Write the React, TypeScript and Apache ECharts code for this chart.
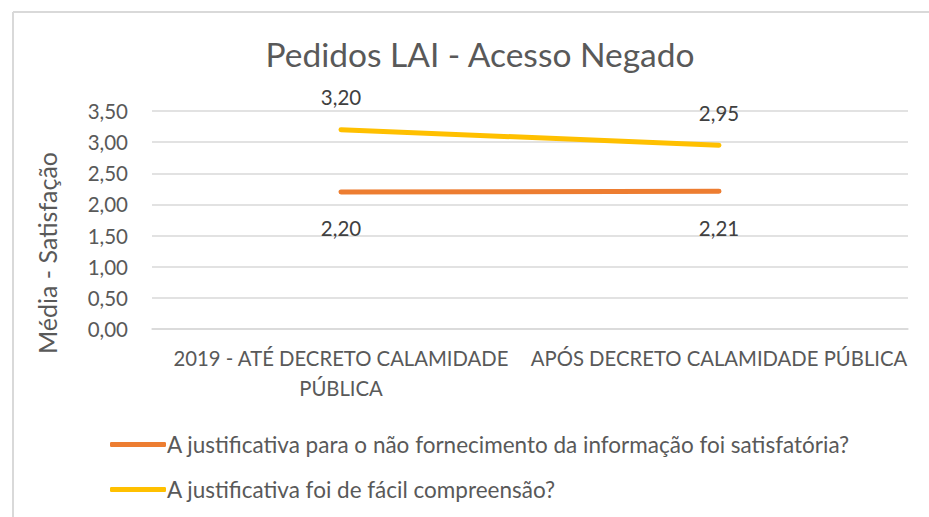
import React, { useEffect, useRef } from "react";
import * as echarts from "echarts";

const categories = ["2019 - ATÉ DECRETO CALAMIDADE\nPÚBLICA", "APÓS DECRETO CALAMIDADE PÚBLICA"];
const seriesNames = [
  "A justificativa para o não fornecimento da informação foi satisfatória?",
  "A justificativa foi de fácil compreensão?",
];
const satisfatoria = [2.2, 2.21];
const compreensao = [3.2, 2.95];
const title = "Pedidos LAI - Acesso Negado";
const yAxisName = "Média - Satisfação";

const FONT = "Lato";
const fmt = (v: number) => v.toFixed(2).replace(".", ",");

export default function App() {
  const ref = useRef<HTMLDivElement>(null);
  useEffect(() => {
    if (!ref.current) return;
    const chart = echarts.init(ref.current, undefined, { renderer: "svg" });
    chart.setOption({
      animation: false,
      backgroundColor: "#ffffff",
      textStyle: { fontFamily: FONT },
      title: {
        text: title,
        left: 475,
        top: 32,
        textAlign: "center",
        textStyle: { fontFamily: FONT, fontSize: 33.5, fontWeight: "normal", color: "#595959" },
      },
      grid: { left: 152, right: 21, top: 111, bottom: 188, containLabel: false },
      xAxis: {
        type: "category",
        data: categories,
        boundaryGap: true,
        axisLine: { lineStyle: { color: "#d9d9d9", width: 1.5 } },
        axisTick: { show: false },
        axisLabel: {
          interval: 0,
          color: "#595959",
          fontFamily: FONT,
          fontSize: 20.3,
          lineHeight: 30,
          margin: 14,
          hideOverlap: false,
        },
      },
      yAxis: {
        type: "value",
        min: 0,
        max: 3.5,
        interval: 0.5,
        axisLine: { show: false },
        axisTick: { show: false },
        splitLine: { lineStyle: { color: "#d9d9d9", width: 1.5 } },
        axisLabel: {
          color: "#595959",
          fontFamily: FONT,
          fontSize: 20.5,
          margin: 24,
          formatter: (v: number) => fmt(v),
        },
      },
      legend: {
        orient: "vertical",
        left: 105,
        top: 428,
        itemGap: 22,
        itemWidth: 56,
        itemHeight: 5,
        icon: "roundRect",
        textStyle: { color: "#595959", fontFamily: FONT, fontSize: 22.5, padding: [0, 0, 0, -4] },
        data: seriesNames,
      },
      graphic: [
        {
          type: "text",
          x: 47,
          y: 253,
          rotation: Math.PI / 2,
          style: {
            text: yAxisName,
            fontFamily: FONT,
            fontSize: 25,
            fill: "#595959",
            textAlign: "center",
            textVerticalAlign: "middle",
          },
        },
        { type: "line", shape: { x1: 13, y1: 12, x2: 13, y2: 517 }, style: { stroke: "#d9d9d9", lineWidth: 2 } },
        { type: "line", shape: { x1: 13, y1: 12, x2: 929, y2: 12 }, style: { stroke: "#d9d9d9", lineWidth: 2 } },
      ],
      series: [
        {
          name: seriesNames[0],
          type: "line",
          data: satisfatoria,
          showSymbol: true,
          symbol: "circle",
          symbolSize: 0,
          color: "#ED7D31",
          lineStyle: { color: "#ED7D31", width: 5, cap: "round" },
          label: {
            show: true,
            position: "bottom",
            distance: 26,
            color: "#404040",
            fontFamily: FONT,
            fontSize: 20.5,
            formatter: (p: any) => fmt(p.value),
          },
        },
        {
          name: seriesNames[1],
          type: "line",
          data: compreensao,
          showSymbol: true,
          symbol: "circle",
          symbolSize: 0,
          color: "#FFC000",
          lineStyle: { color: "#FFC000", width: 5, cap: "round" },
          label: {
            show: true,
            position: "top",
            distance: 22,
            color: "#404040",
            fontFamily: FONT,
            fontSize: 20.5,
            formatter: (p: any) => fmt(p.value),
          },
        },
      ],
    });
    return () => chart.dispose();
  }, []);
  return (
    <div
      ref={ref}
      style={{ position: "fixed", left: 0, top: 0, width: 929, height: 517, background: "#fff" }}
    />
  );
}
